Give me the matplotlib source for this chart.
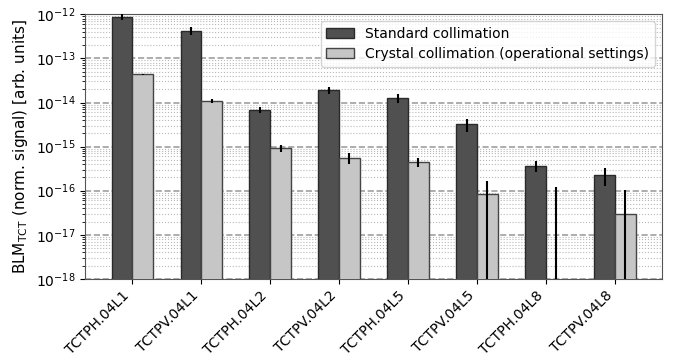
import matplotlib
matplotlib.use("Agg")
import matplotlib.pyplot as plt
import numpy as np

# TCT loss signals per collimator, normalised
collimators = ["TCTPH.04L1", "TCTPV.04L1", "TCTPH.04L2", "TCTPV.04L2",
               "TCTPH.04L5", "TCTPV.04L5", "TCTPH.04L8", "TCTPV.04L8"]
standard = [8.9e-13, 4.2e-13, 6.9e-15, 1.93e-14, 1.25e-14, 3.2e-15, 3.6e-16, 2.3e-16]
standard_err = [1.4e-13, 8.5e-14, 1.2e-15, 3.6e-15, 2.7e-15, 1.0e-15, 1.0e-16, 1.0e-16]
crystal = [4.4e-14, 1.1e-14, 9.1e-16, 5.6e-16, 4.5e-16, 8.3e-17, 0.0, 3.0e-17]
crystal_err = [1.0e-15, 1.0e-15, 1.5e-16, 1.6e-16, 1.1e-16, 8.5e-17, 1.2e-16, 7.2e-17]
decades = [1e-18, 1e-17, 1e-16, 1e-15, 1e-14, 1e-13, 1e-12]

fig, ax = plt.subplots(figsize=(6.78, 3.58), dpi=100)
fig.subplots_adjust(left=0.126, right=0.976, top=0.96, bottom=0.221)

x = np.arange(len(collimators))
width = 0.3

ax.bar(x - width / 2, standard, width, yerr=standard_err, color="#505050",
       edgecolor="#2a2a2a", linewidth=1, error_kw=dict(ecolor="black", elinewidth=1.5),
       label="Standard collimation", zorder=3)
ax.bar(x + width / 2, crystal, width, yerr=crystal_err, color="#c6c6c6",
       edgecolor="#444444", linewidth=1, error_kw=dict(ecolor="black", elinewidth=1.5),
       label="Crystal collimation (operational settings)", zorder=3)

ax.set_yscale("log")
ax.set_yticks(decades)
ax.set_ylim(decades[0], decades[-1])
ax.set_xticks(x)
ax.set_xticklabels(collimators, rotation=45, ha="right", fontsize=10)
ax.tick_params(axis="y", labelsize=10)
ax.set_ylabel(r"BLM$_{\mathrm{TCT}}$ (norm. signal) [arb. units]", fontsize=11)

ax.grid(which="major", axis="y", linestyle="--", color="#a0a0a0", linewidth=1.2, zorder=0)
ax.grid(which="minor", axis="y", linestyle=":", color="#b8b8b8", linewidth=0.8, zorder=0)
ax.set_axisbelow(True)

for spine in ax.spines.values():
    spine.set_color("#555555")

ax.legend(loc="upper right", fontsize=10, labelspacing=0.45)

fig.savefig("out.png", dpi=100)
